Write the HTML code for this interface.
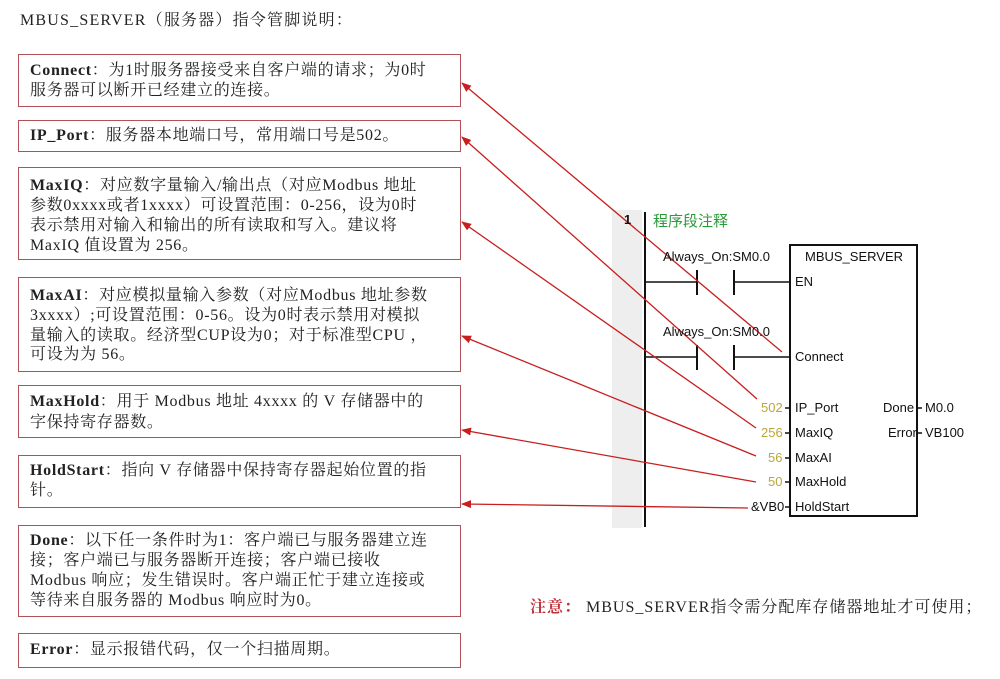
<!DOCTYPE html>
<html><head><meta charset="utf-8">
<style>
body{margin:0;background:#fff;width:1000px;height:679px;position:relative;overflow:hidden;font-family:"Liberation Serif","Noto Serif CJK SC",serif;color:#222}
.box{position:absolute;left:18px;width:441px;border:1.5px solid #b5505a;background:#fff}
.l{position:absolute;left:30px;font-size:16px;letter-spacing:0.7px;line-height:20px;white-space:nowrap;color:#222}
.l b{font-weight:bold}
.s{position:absolute;font-family:"Liberation Sans","Noto Sans CJK SC",sans-serif;font-size:13px;line-height:14px;white-space:nowrap;color:#111}
.y{color:#b8a838}
</style></head><body>
<div class="l" style="left:20px;top:11px;letter-spacing:1.2px">MBUS_SERVER（服务器）指令管脚说明：</div>

<div class="box" style="top:54px;height:51px"></div>
<div class="box" style="top:120px;height:30px"></div>
<div class="box" style="top:167px;height:91px"></div>
<div class="box" style="top:277px;height:93px"></div>
<div class="box" style="top:385px;height:51px"></div>
<div class="box" style="top:455px;height:51px"></div>
<div class="box" style="top:525px;height:90px"></div>
<div class="box" style="top:633px;height:33px"></div>

<div class="l" style="top:61px"><b>Connect</b>：为1时服务器接受来自客户端的请求；为0时</div>
<div class="l" style="top:81px">服务器可以断开已经建立的连接。</div>
<div class="l" style="top:126px"><b>IP_Port</b>：服务器本地端口号，常用端口号是502。</div>
<div class="l" style="top:176px"><b>MaxIQ</b>：对应数字量输入/输出点（对应Modbus 地址</div>
<div class="l" style="top:196px">参数0xxxx或者1xxxx）可设置范围：0-256，设为0时</div>
<div class="l" style="top:216px">表示禁用对输入和输出的所有读取和写入。建议将</div>
<div class="l" style="top:236px">MaxIQ 值设置为 256。</div>
<div class="l" style="top:286px"><b>MaxAI</b>：对应模拟量输入参数（对应Modbus 地址参数</div>
<div class="l" style="top:306px">3xxxx）;可设置范围：0-56。设为0时表示禁用对模拟</div>
<div class="l" style="top:326px">量输入的读取。经济型CUP设为0；对于标准型CPU ，</div>
<div class="l" style="top:345px">可设为为 56。</div>
<div class="l" style="top:392px"><b>MaxHold</b>：用于 Modbus 地址 4xxxx 的 V 存储器中的</div>
<div class="l" style="top:413px">字保持寄存器数。</div>
<div class="l" style="top:461px"><b>HoldStart</b>：指向 V 存储器中保持寄存器起始位置的指</div>
<div class="l" style="top:481px">针。</div>
<div class="l" style="top:531px"><b>Done</b>：以下任一条件时为1：客户端已与服务器建立连</div>
<div class="l" style="top:551px">接；客户端已与服务器断开连接；客户端已接收</div>
<div class="l" style="top:571px">Modbus 响应；发生错误时。客户端正忙于建立连接或</div>
<div class="l" style="top:591px">等待来自服务器的 Modbus 响应时为0。</div>
<div class="l" style="top:640px"><b>Error</b>：显示报错代码，仅一个扫描周期。</div>

<div class="l" style="left:530px;top:598px;letter-spacing:1px"><b style="color:#c0303a">注意：</b> MBUS_SERVER指令需分配库存储器地址才可使用；</div>

<!-- ladder -->
<div style="position:absolute;left:612px;top:210px;width:30px;height:318px;background:#eeeeee"></div>
<svg style="position:absolute;left:0;top:0" width="1000" height="679">
<defs><marker id="a" markerWidth="10" markerHeight="8" refX="9" refY="4" orient="auto" markerUnits="userSpaceOnUse"><path d="M0,0 L10,4 L0,8 Z" fill="#c81e1e"/></marker></defs>
<line x1="645" y1="212" x2="645" y2="527" stroke="#111" stroke-width="2"/>
<line x1="645" y1="282" x2="697" y2="282" stroke="#111" stroke-width="1.5"/>
<line x1="697" y1="270" x2="697" y2="295" stroke="#111" stroke-width="2"/>
<line x1="734" y1="270" x2="734" y2="295" stroke="#111" stroke-width="2"/>
<line x1="734" y1="282" x2="790" y2="282" stroke="#111" stroke-width="1.5"/>
<line x1="645" y1="357" x2="697" y2="357" stroke="#111" stroke-width="1.5"/>
<line x1="697" y1="345" x2="697" y2="370" stroke="#111" stroke-width="2"/>
<line x1="734" y1="345" x2="734" y2="370" stroke="#111" stroke-width="2"/>
<line x1="734" y1="357" x2="790" y2="357" stroke="#111" stroke-width="1.5"/>
<rect x="790" y="245" width="127" height="271" fill="none" stroke="#111" stroke-width="2"/>
<g stroke="#111" stroke-width="1.5">
<line x1="785" y1="408" x2="790" y2="408"/><line x1="785" y1="433" x2="790" y2="433"/>
<line x1="785" y1="458" x2="790" y2="458"/><line x1="785" y1="482" x2="790" y2="482"/>
<line x1="785" y1="507" x2="790" y2="507"/>
<line x1="917" y1="408" x2="922" y2="408"/><line x1="917" y1="433" x2="922" y2="433"/>
</g>
<g stroke="#c81e1e" stroke-width="1.3" fill="none" marker-end="url(#a)">
<line x1="782" y1="352" x2="462" y2="83"/>
<line x1="757" y1="399" x2="462" y2="137"/>
<line x1="756" y1="428" x2="462" y2="222"/>
<line x1="756" y1="456" x2="462" y2="336"/>
<line x1="756" y1="482" x2="462" y2="430"/>
<line x1="748" y1="508" x2="462" y2="504"/>
</g>
</svg>
<div class="s" style="left:624px;top:213px;font-weight:bold">1</div>
<div class="s" style="left:653px;top:214px;color:#2a9a3a;font-size:15px;line-height:16px">程序段注释</div>
<div class="s" style="left:663px;top:250px">Always_On:SM0.0</div>
<div class="s" style="left:663px;top:325px">Always_On:SM0.0</div>
<div class="s" style="left:805px;top:250px">MBUS_SERVER</div>
<div class="s" style="left:795px;top:275px">EN</div>
<div class="s" style="left:795px;top:350px">Connect</div>
<div class="s" style="left:795px;top:401px">IP_Port</div>
<div class="s" style="left:795px;top:426px">MaxIQ</div>
<div class="s" style="left:795px;top:451px">MaxAI</div>
<div class="s" style="left:795px;top:475px">MaxHold</div>
<div class="s" style="left:795px;top:500px">HoldStart</div>
<div class="s" style="left:883px;top:401px">Done</div>
<div class="s" style="left:888px;top:426px">Error</div>
<div class="s" style="left:925px;top:401px">M0.0</div>
<div class="s" style="left:925px;top:426px">VB100</div>
<div class="s y" style="left:761px;top:401px">502</div>
<div class="s y" style="left:761px;top:426px">256</div>
<div class="s y" style="left:768px;top:451px">56</div>
<div class="s y" style="left:768px;top:475px">50</div>
<div class="s" style="left:751px;top:500px">&amp;VB0</div>
</body></html>
